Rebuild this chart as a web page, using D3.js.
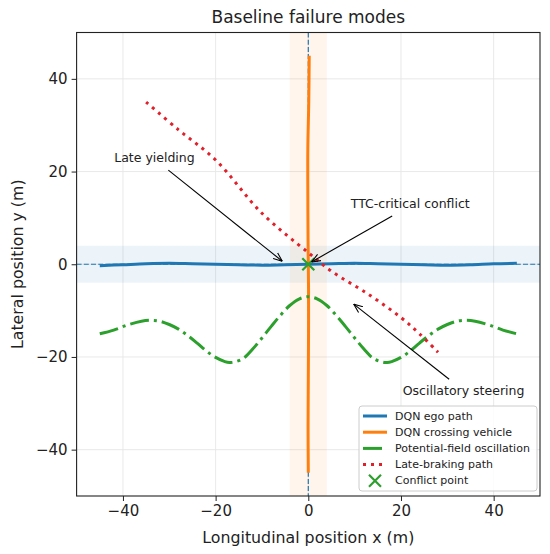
<!DOCTYPE html>
<html>
<head>
<meta charset="utf-8">
<script src="https://cdn.jsdelivr.net/npm/d3@7"></script>
<style>
  body { margin: 0; background: #fff; }
  text { font-family: 'DejaVu Sans', sans-serif; fill: #222; }
</style>
</head>
<body>
<div id="chart"></div>
<script>
// data
const egoX = [-45, -40, -35, -30, -25, -20, -15, -10, -5, 0, 5, 10, 15, 20, 25, 30, 35, 40, 45]
const egoY = [-0.3, -0.1, 0.1, 0.2, 0.1, 0, -0.1, -0.2, -0.1, 0, 0.1, 0.2, 0.1, 0, -0.1, -0.2, -0.1, 0.1, 0.2]

const crossY = [45, 35, 25, 15, 5, 0, -5, -15, -25, -35, -45]
const crossX = [0.2, 0.1, -0.1, -0.1, -0.05, 0, 0.05, 0.05, 0, -0.05, 0]

const fieldX = [-45, -42, -39, -36, -34, -32, -30, -28, -26, -24, -22, -20, -18, -17, -16, -14, -12, -10, -8, -6, -4, -2, 0,
  2, 4, 6, 8, 10, 12, 14, 16, 17, 18, 20, 22, 24, 26, 28, 30, 32, 34, 36, 39, 42, 45]
const fieldY = [-15, -14.2, -13.1, -12.3, -12.1, -12.3, -13, -14, -15.4, -17, -18.7, -20.1, -21, -21.2, -21.1, -20.3, -18.3, -15.9, -13.4, -11, -8.9, -7.5, -7,
  -7.5, -8.9, -11, -13.4, -15.9, -18.3, -20.3, -21.1, -21.2, -21, -20.1, -18.7, -17, -15.4, -14, -13, -12.3, -12.1, -12.3, -13.1, -14.2, -15]

const brakeX = [-35, -28, -20, -10, 0, 5, 13, 20, 24, 28]
const brakeY = [35, 29, 22.5, 11, 2.5, -1.5, -6.5, -11.5, -15, -19]

const xTicks = [-40, -20, 0, 20, 40]
const yTicks = [-40, -20, 0, 20, 40]

const legendLabels = ['DQN ego path', 'DQN crossing vehicle', 'Potential-field oscillation', 'Late-braking path', 'Conflict point']

// annotations: text position, arrow tail, arrow tip (data units)
const notes = [
  { text: 'Late yielding', tx: -33.2, ty: 23, from: [-30.2, 20.3], to: [-5.6, 0.65] },
  { text: 'TTC-critical conflict', tx: 22, ty: 13, from: [18.1, 10.4], to: [0.7, 0.5] },
  { text: 'Oscillatory steering', tx: 33.5, ty: -27.2, from: [30.4, -24.8], to: [9.8, -8.6] }
]

const margin = { top: 32.5, left: 76.6, right: 10, bottom: 58 }
const width = 550 - margin.left - margin.right
const height = 554 - margin.top - margin.bottom

const svg = d3.select('#chart')
  .append('svg')
  .attr('width', 550)
  .attr('height', 554)

const defs = svg.append('defs')
defs.append('clipPath').attr('id', 'clip')
  .append('rect').attr('width', width).attr('height', height)

defs.append('marker')
  .attr('id', 'arrow')
  .attr('viewBox', '0 0 10 10')
  .attr('refX', 10)
  .attr('refY', 5)
  .attr('markerWidth', 9)
  .attr('markerHeight', 9)
  .attr('markerUnits', 'userSpaceOnUse')
  .attr('orient', 'auto')
  .append('path')
  .attr('d', 'M0,1 L10,5 L0,9')
  .attr('fill', 'none')
  .attr('stroke', '#000')
  .attr('stroke-width', 1.2)

const g = svg.append('g')
  .attr('transform', `translate(${margin.left},${margin.top})`)

const x = d3.scaleLinear().domain([-50, 50]).range([0, width])
const y = d3.scaleLinear().domain([-50, 50]).range([height, 0])

// grid
g.append('g').selectAll('line').data(xTicks).enter().append('line')
  .attr('x1', d => x(d)).attr('x2', d => x(d))
  .attr('y1', 0).attr('y2', height)
  .attr('stroke', '#e6e6e6').attr('stroke-width', 0.9)
g.append('g').selectAll('line').data(yTicks).enter().append('line')
  .attr('y1', d => y(d)).attr('y2', d => y(d))
  .attr('x1', 0).attr('x2', width)
  .attr('stroke', '#e6e6e6').attr('stroke-width', 0.9)

const plot = g.append('g').attr('clip-path', 'url(#clip)')

// lane bands
plot.append('rect')
  .attr('x', 0).attr('width', width)
  .attr('y', y(4)).attr('height', y(-4) - y(4))
  .attr('fill', '#1f77b4').attr('fill-opacity', 0.08)
plot.append('rect')
  .attr('x', x(-4)).attr('width', x(4) - x(-4))
  .attr('y', 0).attr('height', height)
  .attr('fill', '#ff7f0e').attr('fill-opacity', 0.08)

// reference centre lines
plot.append('line')
  .attr('x1', x(-50)).attr('x2', x(50))
  .attr('y1', y(0)).attr('y2', y(0))
  .attr('stroke', '#1f77b4').attr('stroke-width', 1.2)
  .attr('stroke-dasharray', '5,2.2')
plot.append('line')
  .attr('x1', x(0)).attr('x2', x(0))
  .attr('y1', y(50)).attr('y2', y(-50))
  .attr('stroke', '#1f77b4').attr('stroke-width', 1.2)
  .attr('stroke-dasharray', '5,2.2')

const line = d3.line()
  .x(d => x(d[0]))
  .y(d => y(d[1]))
  .curve(d3.curveCatmullRom)

plot.append('path')
  .datum(egoX.map((v, i) => [v, egoY[i]]))
  .attr('d', line)
  .attr('fill', 'none').attr('stroke', '#1f77b4').attr('stroke-width', 3)

plot.append('path')
  .datum(crossY.map((v, i) => [crossX[i], v]))
  .attr('d', line)
  .attr('fill', 'none').attr('stroke', '#ff7f0e').attr('stroke-width', 3)

plot.append('path')
  .datum(fieldX.map((v, i) => [v, fieldY[i]]))
  .attr('d', line)
  .attr('fill', 'none').attr('stroke', '#2ca02c').attr('stroke-width', 3)
  .attr('stroke-dasharray', '19,5,3,5')

plot.append('path')
  .datum(brakeX.map((v, i) => [v, brakeY[i]]))
  .attr('d', line)
  .attr('fill', 'none').attr('stroke', '#e0202a').attr('stroke-width', 3)
  .attr('stroke-dasharray', '3,5')

// conflict point
const cross = plot.append('g').attr('transform', `translate(${x(0)},${y(0)})`)
cross.append('path')
  .attr('d', 'M-6,-6L6,6M-6,6L6,-6')
  .attr('stroke', '#2ca02c').attr('stroke-width', 2.2)

// annotations
notes.forEach(n => {
  g.append('line')
    .attr('x1', x(n.from[0])).attr('y1', y(n.from[1]))
    .attr('x2', x(n.to[0])).attr('y2', y(n.to[1]))
    .attr('stroke', '#000').attr('stroke-width', 1.1)
    .attr('marker-end', 'url(#arrow)')
  g.append('text')
    .attr('x', x(n.tx)).attr('y', y(n.ty))
    .attr('text-anchor', 'middle')
    .attr('dominant-baseline', 'central')
    .style('font-size', '12.5px')
    .text(n.text)
})

// axes
const xAxis = g.append('g')
  .attr('transform', `translate(0,${height})`)
  .call(d3.axisBottom(x).tickValues(xTicks).tickSize(5).tickPadding(4).tickFormat(d => d < 0 ? '\u2212' + Math.abs(d) : d))
const yAxis = g.append('g')
  .call(d3.axisLeft(y).tickValues(yTicks).tickSize(5).tickPadding(4).tickFormat(d => d < 0 ? '\u2212' + Math.abs(d) : d))

;[xAxis, yAxis].forEach(a => {
  a.select('.domain').remove()
  a.selectAll('text').style('font-size', '15px').attr('fill', '#222').style('font-family', 'DejaVu Sans')
  a.selectAll('line').attr('stroke', '#222').attr('stroke-width', 1)
})

g.append('rect')
  .attr('width', width).attr('height', height)
  .attr('fill', 'none').attr('stroke', '#222').attr('stroke-width', 1.1)

// titles
svg.append('text')
  .attr('x', margin.left + width / 2).attr('y', 17)
  .attr('text-anchor', 'middle').attr('dominant-baseline', 'central')
  .style('font-size', '17px')
  .text('Baseline failure modes')

svg.append('text')
  .attr('x', margin.left + width / 2).attr('y', 537)
  .attr('text-anchor', 'middle').attr('dominant-baseline', 'central')
  .style('font-size', '15.8px')
  .text('Longitudinal position x (m)')

svg.append('text')
  .attr('transform', `translate(17,${margin.top + height / 2}) rotate(-90)`)
  .attr('text-anchor', 'middle').attr('dominant-baseline', 'central')
  .style('font-size', '15.8px')
  .text('Lateral position y (m)')

// legend
const legend = svg.append('g').attr('transform', 'translate(359,406)')
legend.append('rect')
  .attr('width', 178).attr('height', 85).attr('rx', 3)
  .attr('fill', '#fff').attr('fill-opacity', 0.85)
  .attr('stroke', '#cccccc').attr('stroke-width', 1)

const legendStyles = [
  { color: '#1f77b4', dash: null },
  { color: '#ff7f0e', dash: null },
  { color: '#2ca02c', dash: '19,5,3,5' },
  { color: '#e0202a', dash: '3,5' },
  { color: '#2ca02c', marker: true }
]

legendLabels.forEach((label, i) => {
  const row = legend.append('g').attr('transform', `translate(0,${10 + i * 16.2})`)
  const s = legendStyles[i]
  if (s.marker) {
    row.append('path')
      .attr('d', 'M9,-6L21,6M9,6L21,-6')
      .attr('transform', 'translate(1,0)')
      .attr('stroke', s.color).attr('stroke-width', 2.2)
  } else {
    row.append('line')
      .attr('x1', 4).attr('x2', 28)
      .attr('stroke', s.color).attr('stroke-width', 3)
      .attr('stroke-dasharray', s.dash)
  }
  row.append('text')
    .attr('x', 36).attr('y', 0)
    .attr('dominant-baseline', 'central')
    .style('font-size', '11px')
    .text(label)
})
</script>
</body>
</html>
